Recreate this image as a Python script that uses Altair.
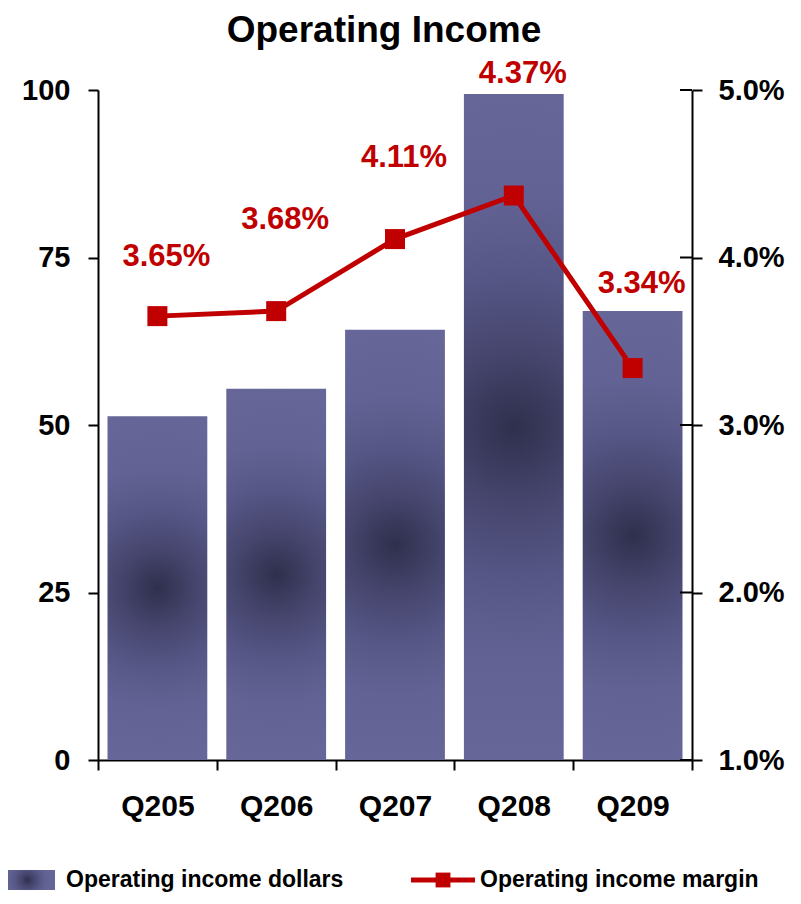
import altair as alt
import pandas as pd

# ---- data ----
quarters = ["Q205", "Q206", "Q207", "Q208", "Q209"]
income_dollars = [51.3, 55.4, 64.2, 99.4, 67.0]
income_margin = [3.65, 3.68, 4.11, 4.37, 3.34]
margin_labels = ["3.65%", "3.68%", "4.11%", "4.37%", "3.34%"]
left_ticks = [0, 25, 50, 75, 100]
right_ticks = [1.0, 2.0, 3.0, 4.0, 5.0]

# label placement offsets (pixels above each marker), as in the original layout
label_dy = [-59, -91, -81, -122, -84]

df = pd.DataFrame({
    "quarter": quarters,
    "dollars": income_dollars,
    "margin": income_margin,
    "label": margin_labels,
})
ticks_df = pd.DataFrame({"margin": right_ticks})
one = pd.DataFrame({"a": [0]})

FONT = "Liberation Sans, Arial, Helvetica, sans-serif"
RED = "#C00000"
BAR_FILL = {
    "gradient": "radial",
    "x1": 0.5, "y1": 0.5, "r1": 0,
    "x2": 0.5, "y2": 0.5, "r2": 0.5,
    "stops": [
        {"offset": 0.0, "color": "#2f2f4d"},
        {"offset": 0.2, "color": "#43436a"},
        {"offset": 0.45, "color": "#565686"},
        {"offset": 0.7, "color": "#626294"},
        {"offset": 1.0, "color": "#666699"},
    ],
}

W, H = 594, 670

x_enc = alt.X(
    "quarter:N",
    sort=quarters,
    scale=alt.Scale(paddingInner=0, paddingOuter=0),
    axis=alt.Axis(
        title=None, labelAngle=0, tickBand="extent", tickSize=10,
        labelPadding=21, labelFontSize=30,
    ),
)
x_plain = alt.X("quarter:N", sort=quarters)

bars = alt.Chart(df).mark_bar(
    width=alt.RelativeBandSize(0.84), color=BAR_FILL
).encode(
    x=x_enc,
    y=alt.Y(
        "dollars:Q",
        scale=alt.Scale(domain=[0, 100], nice=False),
        axis=alt.Axis(title=None, values=left_ticks, orient="left",
                      tickSize=10, labelPadding=18, labelFontSize=29),
    ),
)

right_axis = alt.Axis(
    title=None, values=right_ticks, orient="right",
    labelExpr="format(datum.value, '.1f') + '%'",
    tickSize=10, labelPadding=16, labelFontSize=29,
)
right_scale = alt.Scale(domain=[1, 5], nice=False, zero=False)
y_right = alt.Y("margin:Q", scale=right_scale, axis=right_axis)

line = alt.Chart(df).mark_line(color=RED, strokeWidth=5).encode(x=x_plain, y=y_right)
points = alt.Chart(df).mark_point(
    shape="square", filled=True, size=400, color=RED, opacity=1
).encode(x=x_plain, y=y_right)

label_layers = []
for i in range(len(quarters)):
    label_layers.append(
        alt.Chart(df.iloc[[i]]).mark_text(
            font=FONT, fontSize=31, fontWeight="bold", color=RED,
            align="center", baseline="middle", dx=9, dy=label_dy[i],
        ).encode(x=x_plain, y=y_right, text="label:N")
    )

inner_ticks = alt.Chart(ticks_df).mark_rule(color="black", strokeWidth=2).encode(
    y=y_right, x=alt.value(W - 12), x2=alt.value(W),
)

right_layer = alt.layer(line, points, *label_layers, inner_ticks)

title = alt.Chart(one).mark_text(
    text="Operating Income", font=FONT, fontSize=37, fontWeight="bold",
    color="black", align="center", baseline="alphabetic",
).encode(x=alt.value(286), y=alt.value(-48))

LEG_Y = 790
leg_rect = alt.Chart(one).mark_rect(color=BAR_FILL).encode(
    x=alt.value(-98), x2=alt.value(-43), y=alt.value(LEG_Y - 10), y2=alt.value(LEG_Y + 10)
)
leg_text1 = alt.Chart(one).mark_text(
    text="Operating income dollars", font=FONT, fontSize=23, fontWeight="bold",
    color="black", align="left", baseline="middle",
).encode(x=alt.value(-32), y=alt.value(LEG_Y))
leg_line = alt.Chart(one).mark_rule(color=RED, strokeWidth=5).encode(
    x=alt.value(313), x2=alt.value(377), y=alt.value(LEG_Y)
)
leg_sq = alt.Chart(one).mark_point(
    shape="square", filled=True, size=220, color=RED, opacity=1
).encode(x=alt.value(345), y=alt.value(LEG_Y))
leg_text2 = alt.Chart(one).mark_text(
    text="Operating income margin", font=FONT, fontSize=23, fontWeight="bold",
    color="black", align="left", baseline="middle",
).encode(x=alt.value(382), y=alt.value(LEG_Y))

chart = alt.layer(
    bars, right_layer, title, leg_rect, leg_text1, leg_line, leg_sq, leg_text2
).resolve_scale(y="independent").properties(
    width=W, height=H,
    autosize=alt.AutoSizeParams(type="none"),
    padding={"left": 90, "top": 82, "right": 101, "bottom": 136},
).configure_view(stroke=None).configure_axis(
    labelFont=FONT, labelFontWeight="bold", labelColor="black",
    domainColor="black", domainWidth=2, tickColor="black", tickWidth=2,
    grid=False,
)

chart.save("out.html", embed_options={"renderer": "svg", "actions": False})
